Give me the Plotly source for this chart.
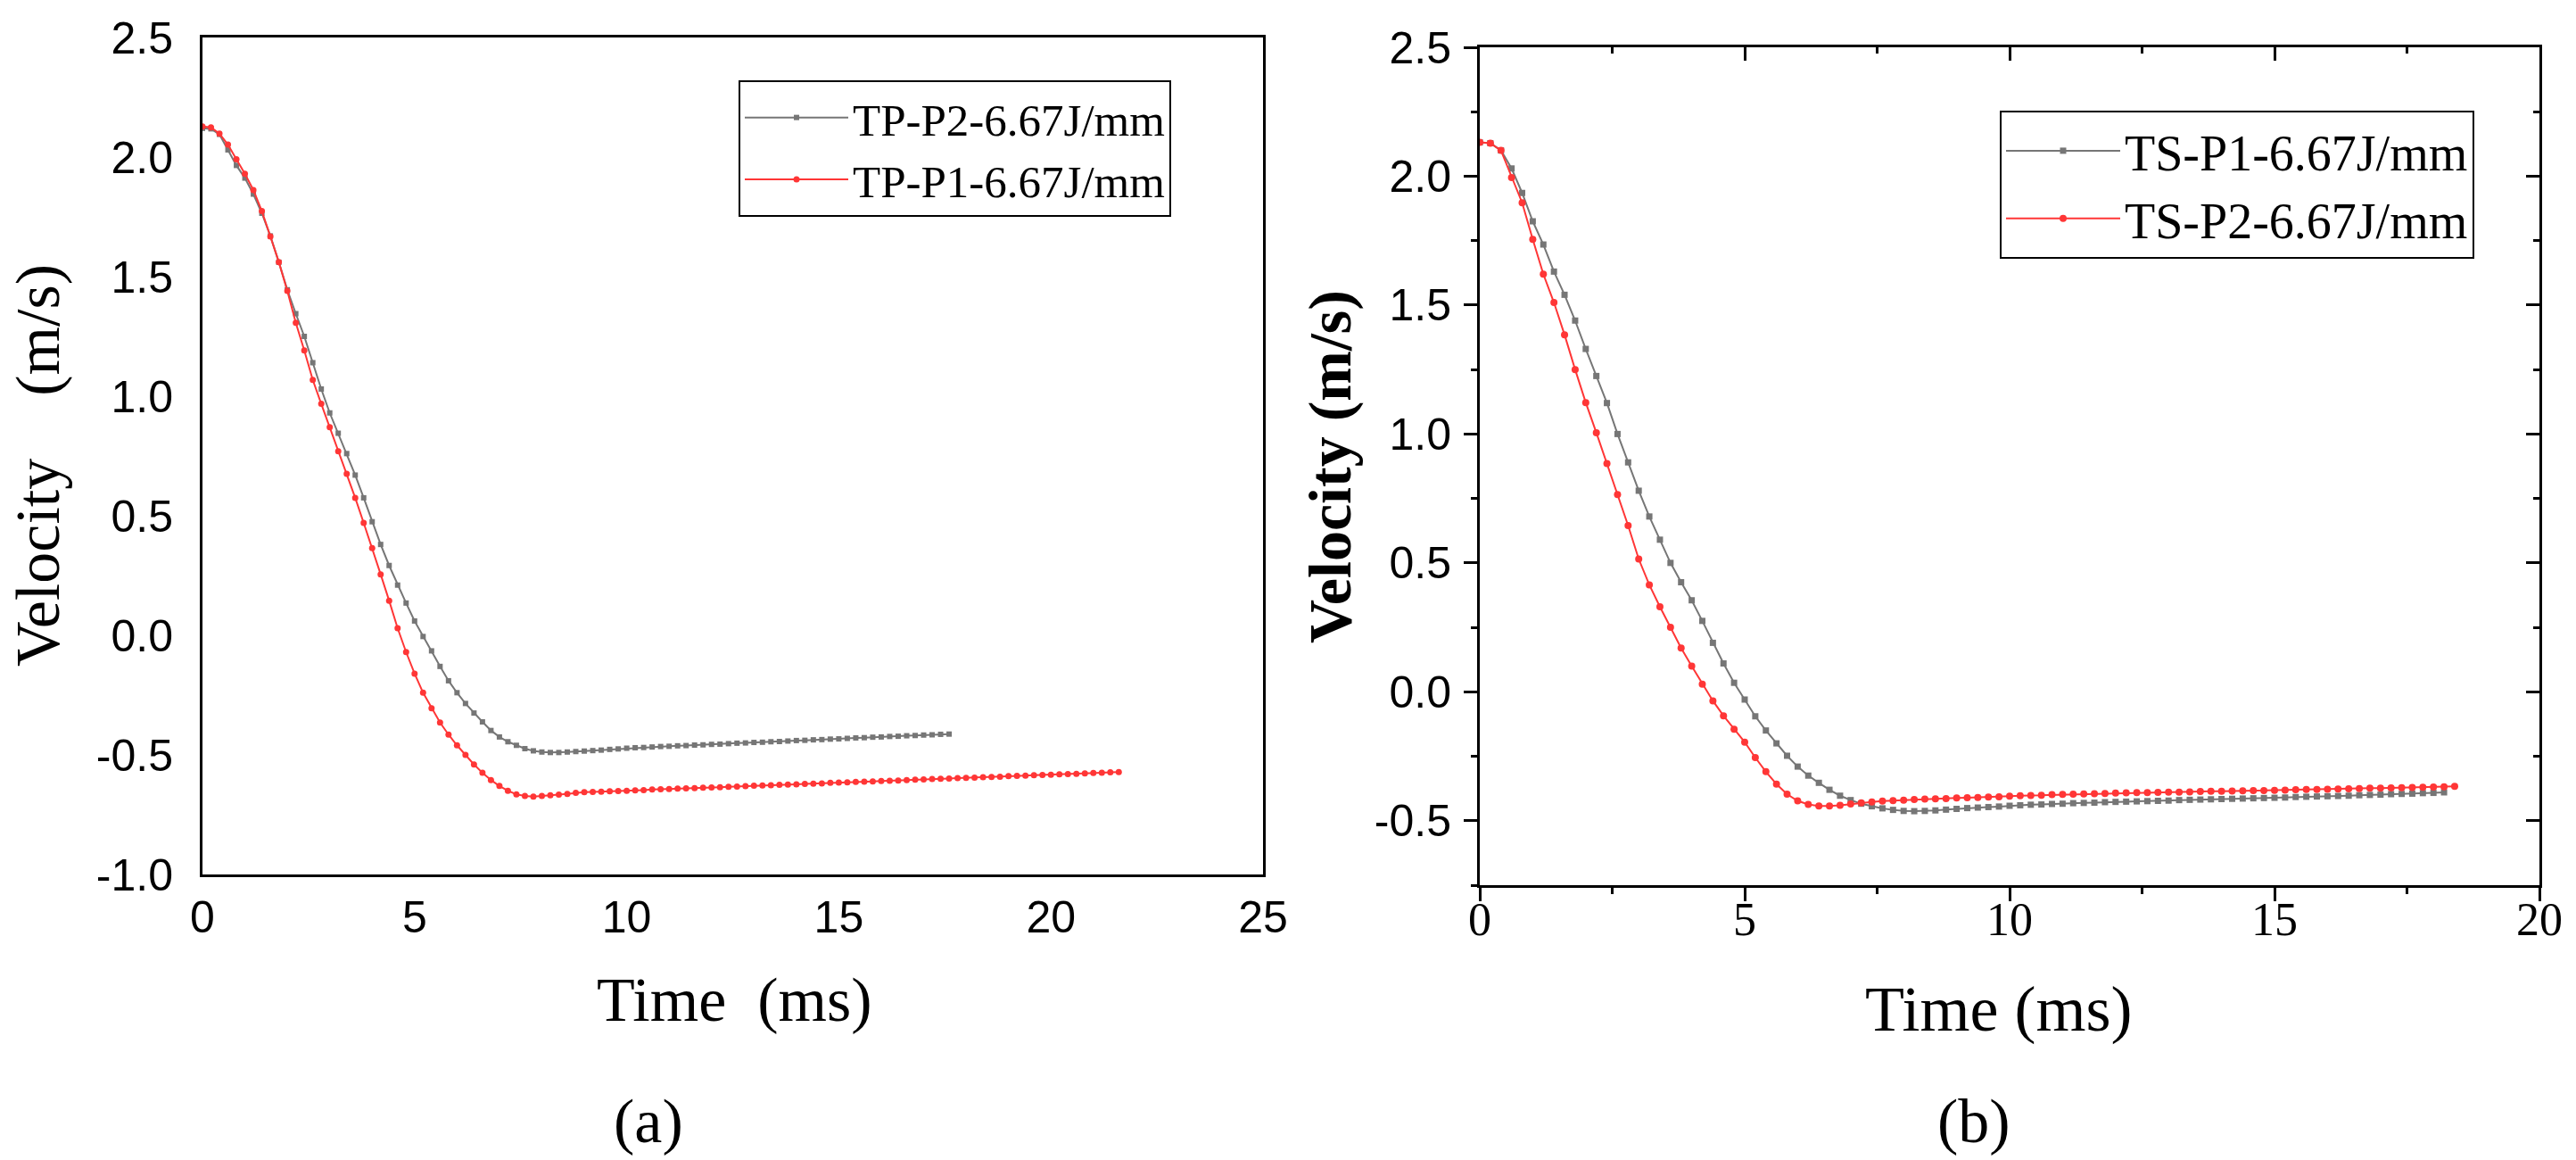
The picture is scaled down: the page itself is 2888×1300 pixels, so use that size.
import plotly.graph_objects as go

# ---------------- data: panel (a) ----------------
t_a_p2 = [0.0, 0.2, 0.4, 0.6, 0.8, 1.0, 1.2, 1.4, 1.6, 1.8, 2.0, 2.2, 2.4, 2.6, 2.8, 3.0, 3.2, 3.4, 3.6, 3.8,
          4.0, 4.2, 4.4, 4.6, 4.8, 5.0, 5.2, 5.4, 5.6, 5.8, 6.0, 6.2, 6.4, 6.6, 6.8, 7.0, 7.2, 7.4, 7.6, 7.8,
          8.0, 8.2, 8.4, 8.6, 8.8, 9.0, 9.2, 9.4, 9.6, 9.8, 10.0, 10.2, 10.4, 10.6, 10.8, 11.0, 11.2, 11.4, 11.6, 11.8,
          12.0, 12.2, 12.4, 12.6, 12.8, 13.0, 13.2, 13.4, 13.6, 13.8, 14.0, 14.2, 14.4, 14.6, 14.8, 15.0, 15.2, 15.4, 15.6, 15.8,
          16.0, 16.2, 16.4, 16.6, 16.8, 17.0, 17.2, 17.4, 17.6]
v_a_p2 = [2.120, 2.118, 2.095, 2.030, 1.965, 1.912, 1.845, 1.765, 1.670, 1.560, 1.445, 1.345, 1.250, 1.140, 1.030, 0.930, 0.845, 0.760, 0.670, 0.575,
          0.475, 0.380, 0.292, 0.210, 0.135, 0.060, -0.005, -0.065, -0.130, -0.190, -0.240, -0.285, -0.325, -0.362, -0.398, -0.425, -0.445, -0.460, -0.474, -0.483,
          -0.488, -0.490, -0.490, -0.488, -0.486, -0.484, -0.482, -0.480, -0.477, -0.475, -0.472, -0.470, -0.469, -0.467, -0.465, -0.464, -0.462, -0.461, -0.459, -0.458,
          -0.456, -0.455, -0.453, -0.451, -0.450, -0.448, -0.447, -0.445, -0.444, -0.442, -0.440, -0.439, -0.437, -0.436, -0.434, -0.433, -0.431, -0.429, -0.428, -0.426,
          -0.425, -0.423, -0.422, -0.420, -0.419, -0.417, -0.416, -0.414, -0.413]

t_a_p1 = [0.0, 0.2, 0.4, 0.6, 0.8, 1.0, 1.2, 1.4, 1.6, 1.8, 2.0, 2.2, 2.4, 2.6, 2.8, 3.0, 3.2, 3.4, 3.6, 3.8,
          4.0, 4.2, 4.4, 4.6, 4.8, 5.0, 5.2, 5.4, 5.6, 5.8, 6.0, 6.2, 6.4, 6.6, 6.8, 7.0, 7.2, 7.4, 7.6, 7.8,
          8.0, 8.2, 8.4, 8.6, 8.8, 9.0, 9.2, 9.4, 9.6, 9.8, 10.0, 10.2, 10.4, 10.6, 10.8, 11.0, 11.2, 11.4, 11.6, 11.8,
          12.0, 12.2, 12.4, 12.6, 12.8, 13.0, 13.2, 13.4, 13.6, 13.8, 14.0, 14.2, 14.4, 14.6, 14.8, 15.0, 15.2, 15.4, 15.6, 15.8,
          16.0, 16.2, 16.4, 16.6, 16.8, 17.0, 17.2, 17.4, 17.6, 17.8, 18.0, 18.2, 18.4, 18.6, 18.8, 19.0, 19.2, 19.4, 19.6, 19.8,
          20.0, 20.2, 20.4, 20.6, 20.8, 21.0, 21.2, 21.4, 21.6]
v_a_p1 = [2.128, 2.124, 2.098, 2.052, 1.991, 1.930, 1.862, 1.774, 1.668, 1.561, 1.440, 1.307, 1.191, 1.068, 0.968, 0.870, 0.770, 0.675, 0.575, 0.470,
          0.365, 0.255, 0.145, 0.030, -0.070, -0.160, -0.240, -0.305, -0.365, -0.415, -0.460, -0.500, -0.540, -0.575, -0.605, -0.630, -0.650, -0.665, -0.672, -0.674,
          -0.672, -0.669, -0.666, -0.663, -0.659, -0.656, -0.655, -0.654, -0.652, -0.651, -0.650, -0.648, -0.647, -0.645, -0.644, -0.643, -0.641, -0.640, -0.639, -0.637,
          -0.636, -0.635, -0.633, -0.632, -0.631, -0.629, -0.628, -0.627, -0.625, -0.624, -0.623, -0.621, -0.620, -0.619, -0.617, -0.616, -0.615, -0.613, -0.612, -0.611,
          -0.609, -0.608, -0.607, -0.605, -0.604, -0.603, -0.601, -0.600, -0.599, -0.597, -0.596, -0.595, -0.593, -0.592, -0.591, -0.589, -0.588, -0.587, -0.585, -0.584,
          -0.583, -0.581, -0.580, -0.579, -0.577, -0.576, -0.575, -0.573, -0.572]

# ---------------- data: panel (b) ----------------
t_b_p1 = [0.0, 0.2, 0.4, 0.6, 0.8, 1.0, 1.2, 1.4, 1.6, 1.8, 2.0, 2.2, 2.4, 2.6, 2.8, 3.0, 3.2, 3.4, 3.6, 3.8,
          4.0, 4.2, 4.4, 4.6, 4.8, 5.0, 5.2, 5.4, 5.6, 5.8, 6.0, 6.2, 6.4, 6.6, 6.8, 7.0, 7.2, 7.4, 7.6, 7.8,
          8.0, 8.2, 8.4, 8.6, 8.8, 9.0, 9.2, 9.4, 9.6, 9.8, 10.0, 10.2, 10.4, 10.6, 10.8, 11.0, 11.2, 11.4, 11.6, 11.8,
          12.0, 12.2, 12.4, 12.6, 12.8, 13.0, 13.2, 13.4, 13.6, 13.8, 14.0, 14.2, 14.4, 14.6, 14.8, 15.0, 15.2, 15.4, 15.6, 15.8,
          16.0, 16.2, 16.4, 16.6, 16.8, 17.0, 17.2, 17.4, 17.6, 17.8, 18.0, 18.2]
v_b_p1 = [2.131, 2.128, 2.100, 2.030, 1.935, 1.825, 1.735, 1.630, 1.540, 1.440, 1.330, 1.225, 1.120, 1.000, 0.890, 0.780, 0.680, 0.590, 0.500, 0.425,
          0.355, 0.275, 0.190, 0.110, 0.035, -0.030, -0.095, -0.150, -0.200, -0.248, -0.290, -0.325, -0.353, -0.380, -0.403, -0.420, -0.434, -0.444, -0.452, -0.458,
          -0.462, -0.463, -0.462, -0.460, -0.457, -0.454, -0.451, -0.449, -0.447, -0.445, -0.442, -0.440, -0.438, -0.437, -0.435, -0.434, -0.432, -0.431, -0.430, -0.428,
          -0.427, -0.426, -0.425, -0.424, -0.423, -0.422, -0.420, -0.419, -0.418, -0.417, -0.416, -0.415, -0.414, -0.413, -0.412, -0.411, -0.410, -0.408, -0.407, -0.406,
          -0.405, -0.404, -0.403, -0.401, -0.400, -0.399, -0.397, -0.396, -0.395, -0.393, -0.392, -0.390]

t_b_p2 = [0.0, 0.2, 0.4, 0.6, 0.8, 1.0, 1.2, 1.4, 1.6, 1.8, 2.0, 2.2, 2.4, 2.6, 2.8, 3.0, 3.2, 3.4, 3.6, 3.8,
          4.0, 4.2, 4.4, 4.6, 4.8, 5.0, 5.2, 5.4, 5.6, 5.8, 6.0, 6.2, 6.4, 6.6, 6.8, 7.0, 7.2, 7.4, 7.6, 7.8,
          8.0, 8.2, 8.4, 8.6, 8.8, 9.0, 9.2, 9.4, 9.6, 9.8, 10.0, 10.2, 10.4, 10.6, 10.8, 11.0, 11.2, 11.4, 11.6, 11.8,
          12.0, 12.2, 12.4, 12.6, 12.8, 13.0, 13.2, 13.4, 13.6, 13.8, 14.0, 14.2, 14.4, 14.6, 14.8, 15.0, 15.2, 15.4, 15.6, 15.8,
          16.0, 16.2, 16.4, 16.6, 16.8, 17.0, 17.2, 17.4, 17.6, 17.8, 18.0, 18.2, 18.4]
v_b_p2 = [2.131, 2.128, 2.100, 1.995, 1.897, 1.755, 1.620, 1.510, 1.385, 1.250, 1.122, 1.005, 0.885, 0.765, 0.645, 0.515, 0.415, 0.330, 0.250, 0.170,
          0.100, 0.030, -0.035, -0.093, -0.145, -0.195, -0.255, -0.310, -0.358, -0.397, -0.423, -0.437, -0.443, -0.443, -0.440, -0.435, -0.431, -0.427, -0.424, -0.422,
          -0.420, -0.418, -0.416, -0.415, -0.414, -0.412, -0.411, -0.410, -0.408, -0.407, -0.405, -0.403, -0.402, -0.401, -0.399, -0.398, -0.397, -0.396, -0.395, -0.394,
          -0.393, -0.392, -0.391, -0.391, -0.390, -0.389, -0.389, -0.388, -0.387, -0.386, -0.386, -0.385, -0.384, -0.383, -0.383, -0.382, -0.381, -0.380, -0.379, -0.379,
          -0.378, -0.377, -0.376, -0.375, -0.374, -0.374, -0.373, -0.372, -0.371, -0.370, -0.369, -0.368, -0.367]

# ---------------- tick labels ----------------
xa_ticks = [0, 5, 10, 15, 20, 25]
xa_text = ["0", "5", "10", "15", "20", "25"]
ya_ticks = [2.5, 2.0, 1.5, 1.0, 0.5, 0.0, -0.5, -1.0]
ya_text = ["2.5", "2.0", "1.5", "1.0", "0.5", "0.0", "-0.5", "-1.0"]
xb_ticks = [0, 5, 10, 15, 20]
xb_text = ["0", "5", "10", "15", "20"]
xb_minor = [2.5, 7.5, 12.5, 17.5]
yb_ticks = [2.5, 2.0, 1.5, 1.0, 0.5, 0.0, -0.5]
yb_text = ["2.5", "2.0", "1.5", "1.0", "0.5", "0.0", "-0.5"]
yb_minor = [2.25, 1.75, 1.25, 0.75, 0.25, -0.25, -0.75]

GRAY = "#767676"
RED = "#FF3636"
SERIF = "Liberation Serif, Times New Roman, serif"
SANS = "Liberation Sans, Arial, sans-serif"
W, H = 2888, 1300

fig = go.Figure()

fig.add_trace(go.Scatter(x=t_a_p2, y=v_a_p2, name="TP-P2-6.67J/mm", mode="lines+markers",
                         line=dict(color=GRAY, width=2), marker=dict(symbol="square", size=6, color=GRAY),
                         xaxis="x", yaxis="y", legend="legend"))
fig.add_trace(go.Scatter(x=t_a_p1, y=v_a_p1, name="TP-P1-6.67J/mm", mode="lines+markers",
                         line=dict(color=RED, width=2), marker=dict(symbol="circle", size=7, color=RED),
                         xaxis="x", yaxis="y", legend="legend"))
fig.add_trace(go.Scatter(x=t_b_p1, y=v_b_p1, name="TS-P1-6.67J/mm", mode="lines+markers",
                         line=dict(color=GRAY, width=2), marker=dict(symbol="square", size=7, color=GRAY),
                         xaxis="x2", yaxis="y2", legend="legend2"))
fig.add_trace(go.Scatter(x=t_b_p2, y=v_b_p2, name="TS-P2-6.67J/mm", mode="lines+markers",
                         line=dict(color=RED, width=2), marker=dict(symbol="circle", size=8, color=RED),
                         xaxis="x2", yaxis="y2", legend="legend2"))
# invisible helper so the mirrored (inward) tick axes of panel (b) are drawn
fig.add_trace(go.Scatter(x=[None], y=[None], xaxis="x3", yaxis="y3", showlegend=False, hoverinfo="skip"))

xa_dom = [227 / W, 1416 / W]
ya_dom = [1 - 980 / H, 1 - 42 / H]
xb_dom = [1659 / W, 2847 / W]
yb_dom = [1 - 992 / H, 1 - 53 / H]

common = dict(showgrid=False, zeroline=False, showline=True, linecolor="black", linewidth=3)

fig.update_layout(
    width=W, height=H, margin=dict(l=0, r=0, t=0, b=0, autoexpand=False),
    paper_bgcolor="white", plot_bgcolor="white",
    xaxis=dict(domain=xa_dom, range=[0, 25], anchor="y", mirror=True, ticks="",
               tickvals=xa_ticks, ticktext=xa_text, tickfont=dict(family=SANS, size=50, color="black"),
               ticklabelstandoff=2, **common),
    yaxis=dict(domain=ya_dom, range=[-1.0, 2.5], anchor="x", mirror=True, ticks="",
               tickvals=ya_ticks, ticktext=ya_text, tickfont=dict(family=SANS, size=50, color="black"),
               ticklabelstandoff=20, **common),
    xaxis2=dict(domain=xb_dom, range=[0, 20], anchor="y2", mirror=True, ticks="outside",
                ticklen=15, tickwidth=3, tickcolor="black",
                minor=dict(ticks="outside", ticklen=7, tickwidth=3, tickcolor="black", tickvals=xb_minor),
                tickvals=xb_ticks, ticktext=xb_text, tickfont=dict(family=SERIF, size=52, color="black"),
                ticklabelstandoff=-24, **common),
    yaxis2=dict(domain=yb_dom, range=[-0.75, 2.5], anchor="x2", mirror=True, ticks="outside",
                ticklen=15, tickwidth=3, tickcolor="black",
                minor=dict(ticks="outside", ticklen=7, tickwidth=3, tickcolor="black", tickvals=yb_minor),
                tickvals=yb_ticks, ticktext=yb_text, tickfont=dict(family=SANS, size=50, color="black"),
                ticklabelstandoff=4, **common),
    xaxis3=dict(overlaying="x2", anchor="y2", side="top", range=[0, 20], ticks="inside",
                ticklen=15, tickwidth=3, tickcolor="black", tickvals=xb_ticks, showticklabels=False,
                minor=dict(ticks="inside", ticklen=7, tickwidth=3, tickcolor="black", tickvals=xb_minor),
                showgrid=False, zeroline=False, showline=False),
    yaxis3=dict(overlaying="y2", anchor="x2", side="right", range=[-0.75, 2.5], ticks="inside",
                ticklen=15, tickwidth=3, tickcolor="black", tickvals=yb_ticks, showticklabels=False,
                minor=dict(ticks="inside", ticklen=7, tickwidth=3, tickcolor="black", tickvals=yb_minor),
                showgrid=False, zeroline=False, showline=False),
    legend=dict(x=828 / W, y=1 - 90 / H, xanchor="left", yanchor="top",
                bgcolor="white", bordercolor="black", borderwidth=2,
                font=dict(family=SERIF, size=51, color="black"), itemwidth=116,
                tracegroupgap=0),
    legend2=dict(x=2242 / W, y=1 - 124 / H, xanchor="left", yanchor="top",
                 bgcolor="white", bordercolor="black", borderwidth=2,
                 font=dict(family=SERIF, size=56, color="black"), itemwidth=128,
                 tracegroupgap=0),
    showlegend=True,
)

annotations = [
    dict(text="Velocity\u00a0\u00a0\u00a0\u00a0(m/s)", x=42 / W, y=1 - 522 / H, textangle=-90,
         font=dict(family=SERIF, size=70, color="black")),
    dict(text="Time\u00a0\u00a0(ms)", x=823 / W, y=1 - 1120 / H,
         font=dict(family=SERIF, size=70, color="black")),
    dict(text="(a)", x=727 / W, y=1 - 1256 / H,
         font=dict(family=SERIF, size=70, color="black")),
    dict(text="<b>Velocity (m/s)</b>", x=1491 / W, y=1 - 523 / H, textangle=-90,
         font=dict(family=SERIF, size=68, color="black")),
    dict(text="Time (ms)", x=2240 / W, y=1 - 1131 / H,
         font=dict(family=SERIF, size=72, color="black")),
    dict(text="(b)", x=2213 / W, y=1 - 1256 / H,
         font=dict(family=SERIF, size=70, color="black")),
]
for a in annotations:
    a.update(xref="paper", yref="paper", xanchor="center", yanchor="middle", showarrow=False)
fig.update_layout(annotations=annotations)

fig.write_html("out.html")
